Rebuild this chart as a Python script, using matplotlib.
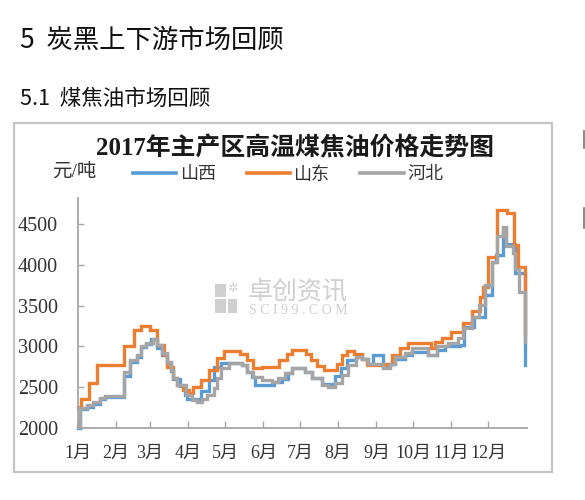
import matplotlib
matplotlib.use("Agg")
import matplotlib.pyplot as plt
from matplotlib.patches import Rectangle
from matplotlib.lines import Line2D
import pandas as pd

# 2017 high-temperature coal tar prices (yuan/ton); each entry is the date a new price took effect
shanxi_dates = ["2017-01-01", "2017-01-03", "2017-01-09", "2017-01-14", "2017-01-19", "2017-01-23",
                "2017-02-08", "2017-02-13", "2017-02-18", "2017-02-22", "2017-02-26", "2017-03-02",
                "2017-03-07", "2017-03-11", "2017-03-15", "2017-03-18", "2017-03-20", "2017-03-25",
                "2017-03-29", "2017-03-31", "2017-04-11", "2017-04-18", "2017-04-22", "2017-04-28",
                "2017-05-15", "2017-05-19", "2017-05-23", "2017-05-25", "2017-06-10", "2017-06-16",
                "2017-06-21", "2017-06-24", "2017-07-05", "2017-07-11", "2017-07-19", "2017-07-29",
                "2017-08-03", "2017-08-08", "2017-08-15", "2017-08-20", "2017-08-25", "2017-08-29",
                "2017-09-06", "2017-09-12", "2017-09-16", "2017-09-24", "2017-09-30", "2017-10-13",
                "2017-10-20", "2017-10-27", "2017-11-08", "2017-11-11", "2017-11-19", "2017-11-28",
                "2017-12-04", "2017-12-07", "2017-12-13", "2017-12-15", "2017-12-23", "2017-12-31"]
shanxi_prices = [2000, 2230, 2260, 2300, 2360, 2380,
                 2640, 2810, 2870, 2990, 3030, 3090,
                 2980, 2900, 2800, 2700, 2600, 2510,
                 2400, 2350, 2450, 2590, 2750, 2800,
                 2770, 2690, 2630, 2530, 2570, 2600,
                 2670, 2730, 2690, 2610, 2540, 2640,
                 2735, 2830, 2870, 2850, 2780, 2890,
                 2760, 2780, 2850, 2900, 2930, 2900,
                 2960, 3000, 3020, 3240, 3360, 3630,
                 4040, 4120, 4450, 4250, 3900, 2770]

shandong_dates = ["2017-01-01", "2017-01-04", "2017-01-10", "2017-01-17", "2017-02-08", "2017-02-16",
                  "2017-02-22", "2017-03-01", "2017-03-07", "2017-03-12", "2017-03-15", "2017-03-20",
                  "2017-03-23", "2017-03-28", "2017-04-02", "2017-04-05", "2017-04-11", "2017-04-18",
                  "2017-04-24", "2017-04-30", "2017-05-13", "2017-05-19", "2017-05-24", "2017-05-31",
                  "2017-06-14", "2017-06-20", "2017-06-24", "2017-07-06", "2017-07-10", "2017-07-15",
                  "2017-07-20", "2017-07-31", "2017-08-04", "2017-08-08", "2017-08-14", "2017-08-20",
                  "2017-08-24", "2017-09-08", "2017-09-14", "2017-09-20", "2017-09-27", "2017-10-15",
                  "2017-10-19", "2017-10-24", "2017-11-01", "2017-11-10", "2017-11-18", "2017-11-24",
                  "2017-11-27", "2017-12-01", "2017-12-08", "2017-12-16", "2017-12-22", "2017-12-25",
                  "2017-12-31"]
shandong_prices = [2260, 2360, 2550, 2770, 3000, 3200,
                   3250, 3200, 3020, 2890, 2750, 2610,
                   2530, 2460, 2430, 2500, 2590, 2710,
                   2860, 2950, 2910, 2830, 2730, 2750,
                   2830, 2910, 2960, 2910, 2830, 2760,
                   2710, 2790, 2890, 2940, 2910, 2850,
                   2770, 2780, 2890, 2980, 3040, 2980,
                   3060, 3100, 3180, 3290, 3430, 3610,
                   3730, 4100, 4670, 4640, 4240, 3980,
                   3150]

hebei_dates = ["2017-01-01", "2017-01-03", "2017-01-09", "2017-01-14", "2017-01-19", "2017-01-23",
               "2017-02-08", "2017-02-13", "2017-02-18", "2017-02-22", "2017-02-26", "2017-03-03",
               "2017-03-07", "2017-03-11", "2017-03-15", "2017-03-18", "2017-03-20", "2017-03-23",
               "2017-03-30", "2017-04-04", "2017-04-08", "2017-04-12", "2017-04-16", "2017-04-22",
               "2017-04-24", "2017-04-28", "2017-05-04", "2017-05-15", "2017-05-19", "2017-05-24",
               "2017-05-31", "2017-06-08", "2017-06-13", "2017-06-19", "2017-06-24", "2017-07-05",
               "2017-07-11", "2017-07-19", "2017-07-24", "2017-07-29", "2017-08-04", "2017-08-09",
               "2017-08-15", "2017-08-20", "2017-08-25", "2017-09-06", "2017-09-12", "2017-09-16",
               "2017-09-24", "2017-09-30", "2017-10-13", "2017-10-20", "2017-10-29", "2017-11-06",
               "2017-11-10", "2017-11-18", "2017-11-23", "2017-11-28", "2017-12-04", "2017-12-08",
               "2017-12-13", "2017-12-15", "2017-12-21", "2017-12-23", "2017-12-26", "2017-12-31"]
hebei_prices = [2020, 2240, 2280, 2320, 2370, 2390,
                2690, 2830, 2890, 3000, 3040, 3090,
                3020, 2920, 2810, 2710, 2610, 2530,
                2400, 2340, 2320, 2360, 2400, 2490,
                2610, 2730, 2800, 2770, 2690, 2630,
                2590, 2570, 2610, 2670, 2735, 2690,
                2610, 2530, 2505, 2550, 2650, 2770,
                2875, 2850, 2780, 2735, 2780, 2870,
                2920, 2980, 2894, 3000, 3040, 3100,
                3225, 3360, 3510, 3750, 4040, 4360,
                4460, 4230, 4150, 3950, 3670, 3050]

series_names = ["山西", "山东", "河北"]
series_colors = ["#5B9BD5", "#ED7D31", "#A5A5A5"]
month_labels = ["1月", "2月", "3月", "4月", "5月", "6月", "7月", "8月", "9月", "10月", "11月", "12月"]
y_ticks = [2000, 2500, 3000, 3500, 4000, 4500]

W, H = 585, 500
fig = plt.figure(figsize=(W / 100, H / 100), dpi=100)
fig.patch.set_facecolor("white")


def px(x, y):
    return x / W, 1 - y / H


cjk = ["Noto Sans CJK SC", "DejaVu Sans"]
serif_cjk = ["Liberation Serif", "Noto Sans CJK SC"]

# document headings
fig.text(*px(20, 40), "5  炭黑上下游市场回顾", family=cjk, fontsize=19, va="center", ha="left",
         color="#111111", fontweight="medium")
fig.text(*px(20, 99), "5.1  煤焦油市场回顾", family=cjk, fontsize=15.5, va="center", ha="left",
         color="#111111", fontweight="medium")

# left strokes of the body text column beside the chart
for y0, y1 in [(131, 148), (208, 228)]:
    fig.add_artist(Line2D([583.5 / W, 583.5 / W], [1 - y0 / H, 1 - y1 / H],
                          transform=fig.transFigure, color="#777777", lw=1.2))

# chart frame
fig.patches.append(Rectangle(px(14, 472), 538 / W, 349 / H, transform=fig.transFigure,
                             fill=False, edgecolor="#c4c4c4", lw=1.6))

ax = fig.add_axes([77.5 / W, 1 - 428 / H, 449 / W, 230 / H])

all_dates = [shanxi_dates, shandong_dates, hebei_dates]
all_prices = [shanxi_prices, shandong_prices, hebei_prices]
for name, dts, vals, col in zip(series_names, all_dates, all_prices, series_colors):
    ax.plot(pd.to_datetime(dts), vals, drawstyle="steps-post", color=col, lw=2.4,
            label=name, solid_joinstyle="miter", clip_on=False)

ax.set_xlim(pd.Timestamp("2017-01-01"), pd.Timestamp("2018-01-01"))
ax.set_ylim(2000, 4820)
ax.set_yticks(y_ticks)
ax.set_yticklabels([str(v) for v in y_ticks], family=serif_cjk, fontsize=14.5, color="#333333")

month_starts = pd.date_range("2017-01-01", periods=12, freq="MS")
ax.set_xticks(month_starts)
ax.set_xticklabels(month_labels, family=serif_cjk, fontsize=13, color="#333333")

for side in ("top", "right"):
    ax.spines[side].set_visible(False)
for side in ("left", "bottom"):
    ax.spines[side].set_color("#a6a6a6")
    ax.spines[side].set_linewidth(1.3)
ax.tick_params(axis="y", direction="in", length=4, width=1, color="#a6a6a6", pad=14)
ax.tick_params(axis="x", direction="in", length=5, width=1, color="#a6a6a6", pad=12)
ax.set_facecolor("none")

# title, unit, legend
fig.text(*px(295, 148), "2017年主产区高温煤焦油价格走势图", family=serif_cjk, fontsize=17.9,
         fontweight="bold", ha="center", va="center", color="#1a1a1a")
fig.text(*px(52, 172), "元/吨", family=serif_cjk, fontsize=14, ha="left", va="center", color="#333333")
handles = [Line2D([], [], color=c, lw=2.6) for c in series_colors]
fig.legend(handles, series_names, loc="center", bbox_to_anchor=px(288, 175), ncol=3,
           frameon=False, prop={"family": serif_cjk, "size": 13}, handlelength=2.4,
           handletextpad=0.2, columnspacing=1.7, labelcolor="#333333")

# watermark
wm = "#cfcfcf"
for (x0, y0, w, h) in [(215, 284, 11, 13), (215, 299, 11, 14), (228, 299, 9, 14)]:
    fig.patches.append(Rectangle(px(x0, y0 + h), w / W, h / H, transform=fig.transFigure,
                                 color=wm, lw=0, zorder=0.5))
fig.text(*px(232, 289), "✲", fontsize=9, color=wm, ha="center", va="center", family="DejaVu Sans")
fig.text(*px(298, 291), "卓创资讯", family=cjk, fontsize=18, color=wm, ha="center", va="center")
fig.text(*px(298, 310.5), "S C I 9 9 . C O M", family="Liberation Serif", fontsize=10, color=wm,
         ha="center", va="center")

fig.savefig("out.png", dpi=100, facecolor="white")
